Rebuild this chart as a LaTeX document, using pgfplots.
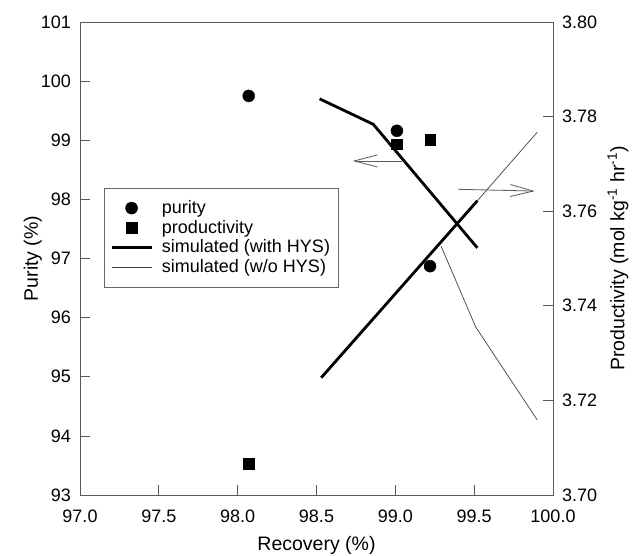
\documentclass[border=0pt]{standalone}
\usepackage{fontspec}
\setmainfont{Liberation Sans}
\usepackage{pgfplots}
\pgfplotsset{compat=1.18}
\usetikzlibrary{arrows.meta}
\begin{document}
\fontsize{18}{21}\selectfont
\begin{tikzpicture}
\useasboundingbox (0,0) rectangle (633pt,556pt);
\pgfplotsset{
  every axis/.append style={
    /pgf/number format/assume math mode=true,
    width=473pt, height=473pt, scale only axis,
    at={(80pt,61pt)}, anchor=south west,
    xmin=97, xmax=100,
    tick align=inside, major tick length=10pt,
    axis line style={black!65, line width=0.7pt},
    tick style={black!65, line width=0.7pt},
    tick label style={font=\fontsize{18}{21}\selectfont},
    label style={font=\fontsize{19.5}{22}\selectfont},
  }
}
\begin{axis}[
  ymin=93, ymax=101,
  xtick={97,97.5,...,100},
  xticklabel style={yshift=-9pt, /pgf/number format/.cd, fixed, fixed zerofill, precision=1},
  yticklabel style={xshift=-3pt},
  ytick={93,...,101},
  xtick pos=bottom, ytick pos=left,
  xlabel={Recovery (\%)},
  ylabel={Purity (\%)},
  xlabel style={at={(axis description cs:0.5,-0.1057)}, anchor=center},
  ylabel style={at={(axis description cs:-0.0998,0.5)}, anchor=center},
  legend style={at={(0.0507,0.649)}, anchor=north west, draw=black!60,
    font=\fontsize{18}{20}\selectfont, inner xsep=6pt, inner ysep=10pt,
    row sep=0pt, cells={anchor=west},
    /tikz/every odd column/.append style={column sep=7pt}},
  legend cell align=left,
  legend image code/.code={\draw[mark repeat=2,mark phase=2,#1] plot coordinates {(0pt,0pt) (20pt,0pt) (40pt,0pt)};},
]
\addlegendimage{only marks, mark=*, mark size=6pt, black}
\addlegendentry{purity}
\addlegendimage{only marks, mark=square*, mark size=5.3pt, black}
\addlegendentry{productivity}
\addlegendimage{black, line width=2.8pt}
\addlegendentry{simulated (with HYS)}
\addlegendimage{black!75, line width=0.7pt}
\addlegendentry{simulated (w/o HYS)}

\addplot[forget plot, only marks, mark=*, mark size=6pt, black] coordinates {
  (98.07,99.75) (99.01,99.16) (99.22,96.87)};
\addplot[forget plot, black, line width=2.8pt] coordinates {
  (98.52,99.70) (98.86,99.27) (99.52,97.18)};
\addplot[forget plot, black!75, line width=0.7pt] coordinates {
  (99.29,97.21) (99.51,95.84) (99.90,94.27)};
\draw[black!65, line width=0.8pt, -{Straight Barb[length=23pt,width=12pt]}]
  (axis cs:99.04,98.65) -- (axis cs:98.73,98.65);
\draw[black!65, line width=0.8pt, -{Straight Barb[length=23pt,width=12pt]}]
  (axis cs:99.40,98.17) -- (axis cs:99.885,98.14);
\end{axis}
\begin{axis}[
  ymin=3.70, ymax=3.80,
  axis x line=none,
  axis y line*=right,
  ytick={3.70,3.72,...,3.80},
  yticklabel style={xshift=3pt, /pgf/number format/.cd, fixed, fixed zerofill, precision=2},
  ylabel={Productivity (mol kg\textsuperscript{-1} hr\textsuperscript{-1})},
  ylabel style={at={(axis description cs:1.1374,0.5)}, anchor=center, rotate=0},
]
\addplot[only marks, mark=square*, mark size=5.3pt, black] coordinates {
  (98.07,3.7066) (99.01,3.7742) (99.22,3.7751)};
\addplot[black!75, line width=0.7pt] coordinates {
  (99.52,3.7622) (99.90,3.7767)};
\addplot[black, line width=2.8pt] coordinates {
  (98.53,3.7248) (99.52,3.7622)};
\end{axis}
\end{tikzpicture}
\end{document}
